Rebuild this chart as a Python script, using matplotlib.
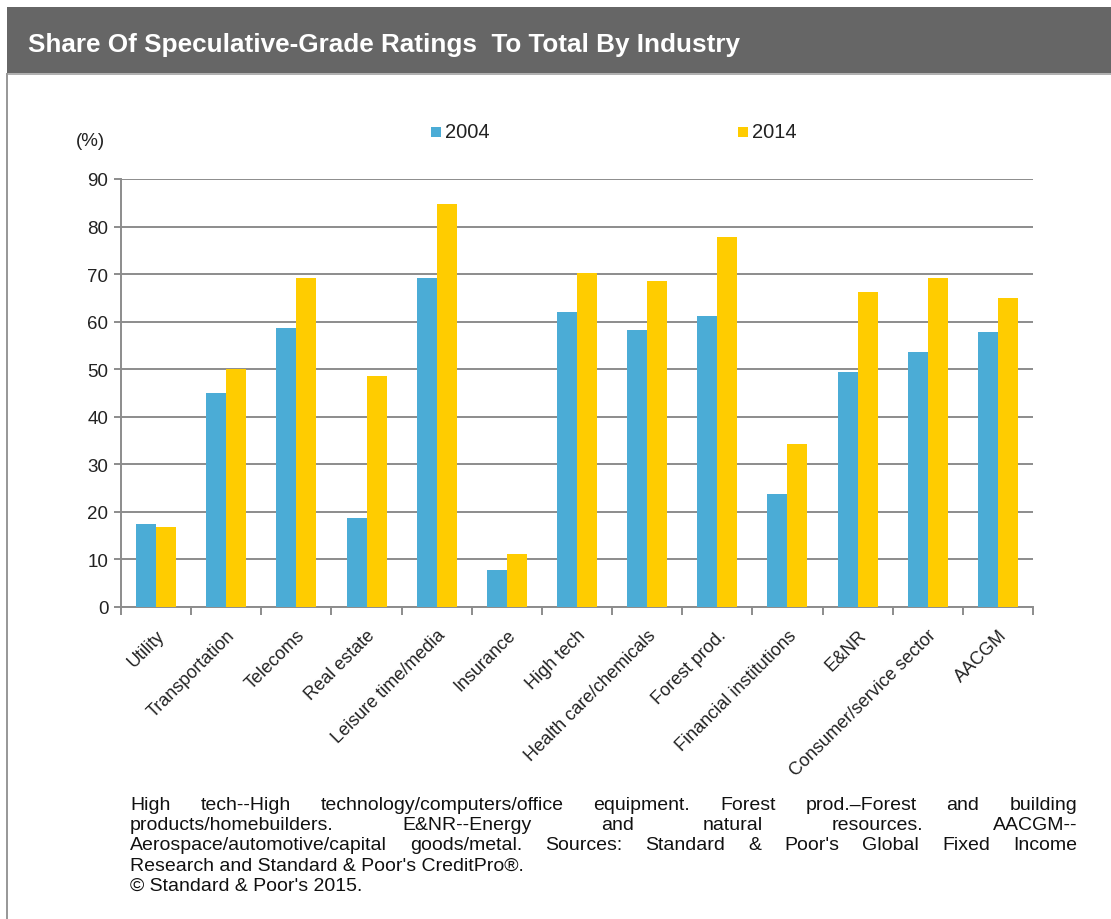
import matplotlib
matplotlib.use("Agg")
import matplotlib.pyplot as plt
from matplotlib import font_manager
from matplotlib.patches import Rectangle
import numpy as np

W, H = 1111, 920

categories = ["Utility", "Transportation", "Telecoms", "Real estate",
              "Leisure time/media", "Insurance", "High tech",
              "Health care/chemicals", "Forest prod.", "Financial institutions",
              "E&NR", "Consumer/service sector", "AACGM"]
share_2004 = [17.4, 45.1, 58.6, 18.7, 69.1, 7.7, 62.0, 58.2, 61.1, 23.7, 49.4, 53.6, 57.8]
share_2014 = [16.9, 50.1, 69.1, 48.5, 84.7, 11.1, 70.3, 68.6, 77.9, 34.2, 66.2, 69.1, 64.9]
series_names = ["2004", "2014"]
yticks = [0, 10, 20, 30, 40, 50, 60, 70, 80, 90]

title = "Share Of Speculative-Grade Ratings  To Total By Industry"
note_lines = [
    "High tech--High technology/computers/office equipment. Forest prod.\u2013Forest and  building",
    "products/homebuilders. E&NR--Energy and natural resources. AACGM--",
    "Aerospace/automotive/capital goods/metal. Sources: Standard & Poor's  Global Fixed Income",
    "Research and Standard & Poor's CreditPro\u00ae.",
    "\u00a9 Standard & Poor's 2015.",
]

BLUE = "#4BACD6"
YELLOW = "#FFCC00"
GRID = "#8C8C8C"
TXT = "#222222"

installed = {f.name for f in font_manager.fontManager.ttflist}
NARROW = "Liberation Sans Narrow" if "Liberation Sans Narrow" in installed else "Liberation Sans"
plt.rcParams["font.family"] = ["Liberation Sans", "DejaVu Sans"]


def px(x, y):
    # pixel coords (from top-left) -> figure fraction
    return x / W, 1 - y / H


fig = plt.figure(figsize=(W / 100, H / 100), dpi=100)

# header bar and frame
fig.patches.append(Rectangle(px(7, 74), (W - 7) / W, 66 / H, transform=fig.transFigure,
                             facecolor="#666666", edgecolor="none"))
fig.patches.append(Rectangle(px(7, 76), (W - 7) / W, 2 / H, transform=fig.transFigure,
                             facecolor="#B0B0B0", edgecolor="none"))
fig.patches.append(Rectangle(px(6, H), 2 / W, (H - 74) / H, transform=fig.transFigure,
                             facecolor="#999999", edgecolor="none"))
fig.text(*px(28, 45), title, color="white", fontsize=18.8, fontweight="bold",
         family=NARROW, va="center", ha="left")

# main axes
x0, x1, ytop, ybot = 121, 1033, 180, 608
ax = fig.add_axes([x0 / W, 1 - ybot / H, (x1 - x0) / W, (ybot - ytop) / H])
x = np.arange(len(categories))
bw = 0.285
ax.bar(x - bw / 2, share_2004, bw, color=BLUE, zorder=3)
ax.bar(x + bw / 2, share_2014, bw, color=YELLOW, zorder=3)

ax.set_ylim(0, 90)
ax.set_xlim(-0.5, len(categories) - 0.5)
ax.set_yticks(yticks)
ax.yaxis.grid(True, color=GRID, linewidth=1.4, zorder=0)
ax.set_axisbelow(True)
for s in ["top", "right"]:
    ax.spines[s].set_visible(False)
for s in ["left", "bottom"]:
    ax.spines[s].set_color(GRID)
    ax.spines[s].set_linewidth(1.4)
ax.tick_params(axis="y", length=5, color=GRID, width=1.4, labelsize=13.5,
               labelcolor=TXT, pad=4)
ax.set_xticks(x)
ax.set_xticklabels(categories, rotation=45, ha="right", rotation_mode="anchor",
                   fontsize=13, color=TXT)
ax.tick_params(axis="x", which="major", length=0, pad=14)
ax.set_xticks(np.arange(len(categories) + 1) - 0.5, minor=True)
ax.tick_params(axis="x", which="minor", length=6, color=GRID, width=1.4)

# "(%)" unit label
fig.text(*px(76, 142), "(%)", fontsize=13.5, color=TXT, va="center", ha="left")

# legend
for (lx, name, col) in [(431, series_names[0], BLUE), (738, series_names[1], YELLOW)]:
    fig.patches.append(Rectangle(px(lx, 138), 10 / W, 10 / H, transform=fig.transFigure,
                                 facecolor=col, edgecolor="none"))
    fig.text(*px(lx + 14, 133), name, fontsize=14.5, color=TXT,
             va="center", ha="left")

# justified footnote
fig.canvas.draw()
renderer = fig.canvas.get_renderer()
note_fs = 14
nx0, nx1 = 130, 1077
for i, line in enumerate(note_lines):
    ny = 806 + i * 20
    if i >= 3:
        fig.text(*px(nx0, ny), line, fontsize=note_fs, family=NARROW,
                 color="#111111", va="center", ha="left")
        continue
    words = line.split()
    widths = []
    for w in words:
        t = fig.text(0, 0, w, fontsize=note_fs, family=NARROW)
        widths.append(t.get_window_extent(renderer).width)
        t.remove()
    gap = (nx1 - nx0 - sum(widths)) / (len(words) - 1)
    cx = nx0
    for w, wd in zip(words, widths):
        fig.text(*px(cx, ny), w, fontsize=note_fs, family=NARROW,
                 color="#111111", va="center", ha="left")
        cx += wd + gap

fig.savefig("out.png", dpi=100)
